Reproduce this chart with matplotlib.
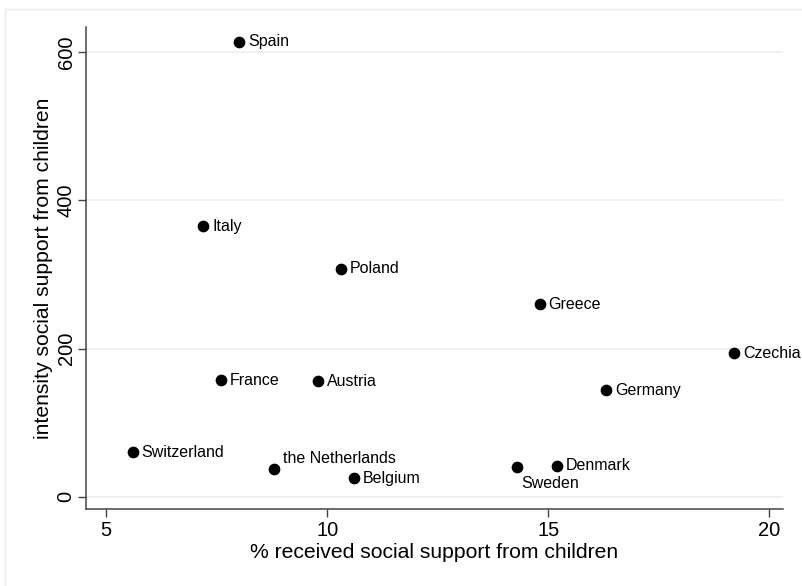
import matplotlib.pyplot as plt
from matplotlib.patches import Rectangle

plt.rcParams['font.family'] = ['Liberation Sans', 'DejaVu Sans']

countries = ['Spain', 'Italy', 'Poland', 'Greece', 'Czechia', 'France', 'Austria',
             'Germany', 'Switzerland', 'the Netherlands', 'Belgium', 'Sweden', 'Denmark']
pct_support = [8.0, 7.2, 10.3, 14.8, 19.2, 7.6, 9.8, 16.3, 5.6, 8.8, 10.6, 14.3, 15.2]
intensity = [614, 365, 308, 260, 194, 157, 156, 144, 60, 38, 25, 40, 42]

x_ticks = [5, 10, 15, 20]
y_ticks = [0, 200, 400, 600]

# label offsets in points (most labels sit to the right of the marker)
offsets = {'the Netherlands': (6, 7), 'Sweden': (3, -12)}

fig = plt.figure(figsize=(8.02, 5.86), dpi=100)
ax = fig.add_axes([0.107, 0.1314, 0.869, 0.8225])

# light frame around the graph region
fig.patches.append(Rectangle((5 / 802, -0.2), 1.2, 1.2 + (586 - 9) / 586 - 1.0,
                             transform=fig.transFigure, fill=False,
                             edgecolor='#e4ecec', linewidth=1.0))

ax.scatter(pct_support, intensity, s=55, color='black', zorder=3)
for name, x, y in zip(countries, pct_support, intensity):
    dx, dy = offsets.get(name, (6.5, 0))
    ax.annotate(name, (x, y), xytext=(dx, dy), textcoords='offset points',
                ha='left', va='center', fontsize=11.5)

ax.set_xlim(4.54, 20.3)
ax.set_ylim(-16.5, 634)
ax.set_xticks(x_ticks)
ax.set_yticks(y_ticks)
ax.set_yticklabels([str(v) for v in y_ticks], rotation=90, va='center')
ax.tick_params(axis='both', direction='out', length=5.8, width=1, color='#444444',
               labelsize=14.5)
ax.tick_params(axis='x', pad=3)
ax.tick_params(axis='y', pad=1.5)
ax.grid(axis='y', color='#e8f0f0', linewidth=1.2)
ax.set_axisbelow(True)

for side in ['top', 'right']:
    ax.spines[side].set_visible(False)
for side in ['left', 'bottom']:
    ax.spines[side].set_color('#444444')
    ax.spines[side].set_linewidth(1.1)

ax.set_xlabel('% received social support from children', fontsize=15.2, labelpad=2)
ax.set_ylabel('intensity social support from children', fontsize=15.2, labelpad=3)

fig.savefig('out.png', dpi=100)
